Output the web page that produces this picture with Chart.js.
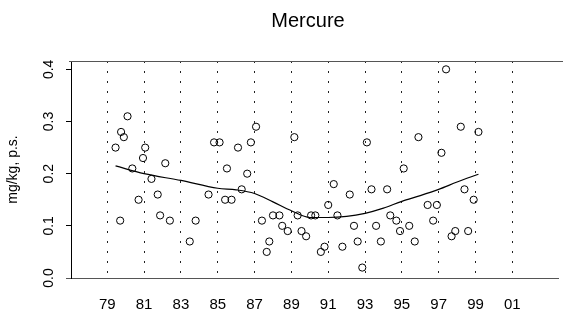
<!DOCTYPE html>
<html>
<head>
<meta charset="utf-8">
<script src="https://cdn.jsdelivr.net/npm/chart.js@4"></script>
<style>
    html, body { margin: 0; padding: 0; background: #fff; }
    #wrap { width: 563px; height: 320px; }
</style>
</head>
<body>
<div id="wrap"><canvas id="chart" width="563" height="320"></canvas></div>
<script>
// observations: year (decimal) and value
const obsYears = [
    79.45, 79.7, 79.75, 79.9, 80.1, 80.36, 80.7, 80.94, 81.06, 81.4,
    81.74, 81.87, 82.15, 82.4, 83.48, 83.8, 84.5, 84.8, 85.1, 85.4,
    85.5, 85.75, 86.1, 86.3, 86.6, 86.8, 87.08, 87.4, 87.66, 87.8,
    88.0, 88.35, 88.5, 88.8, 89.16, 89.34, 89.55, 89.8, 90.07, 90.3,
    90.6, 90.8, 91.0, 91.3, 91.5, 91.77, 92.17, 92.4, 92.6, 92.85,
    93.1, 93.35, 93.6, 93.86, 94.2, 94.37, 94.7, 94.9, 95.1, 95.4,
    95.7, 95.9, 96.4, 96.7, 96.9, 97.15, 97.4, 97.7, 97.9, 98.2,
    98.4, 98.6, 98.9, 99.16
];
const obsValues = [
    0.25, 0.11, 0.28, 0.27, 0.31, 0.21, 0.15, 0.23, 0.25, 0.19,
    0.16, 0.12, 0.22, 0.11, 0.07, 0.11, 0.16, 0.26, 0.26, 0.15,
    0.21, 0.15, 0.25, 0.17, 0.20, 0.26, 0.29, 0.11, 0.05, 0.07,
    0.12, 0.12, 0.10, 0.09, 0.27, 0.12, 0.09, 0.08, 0.12, 0.12,
    0.05, 0.06, 0.14, 0.18, 0.12, 0.06, 0.16, 0.10, 0.07, 0.02,
    0.26, 0.17, 0.10, 0.07, 0.17, 0.12, 0.11, 0.09, 0.21, 0.10,
    0.07, 0.27, 0.14, 0.11, 0.14, 0.24, 0.40, 0.08, 0.09, 0.29,
    0.17, 0.09, 0.15, 0.28
];

// smoothed trend
const trendYears = [79.45, 81, 83, 85, 86, 87, 88, 89, 90, 91, 92, 93, 94, 95, 96, 97, 98, 99.16];
const trendValues = [0.215, 0.200, 0.187, 0.172, 0.169, 0.162, 0.146, 0.129, 0.116, 0.116, 0.118, 0.124, 0.134, 0.147, 0.158, 0.170, 0.184, 0.199];

const xTickYears = [79, 81, 83, 85, 87, 89, 91, 93, 95, 97, 99, 101];
const yTickValues = [0.0, 0.1, 0.2, 0.3, 0.4];

const FONT = "'Liberation Sans', Arial, sans-serif";

const framePlugin = {
    id: "frame",
    afterDraw(chart) {
        const { ctx, chartArea } = chart;
        const yScale = chart.scales.y;
        ctx.save();
        // top border line
        ctx.strokeStyle = "#555";
        ctx.lineWidth = 1;
        ctx.beginPath();
        ctx.moveTo(chartArea.left - 2, chartArea.top + 0.5);
        ctx.lineTo(chart.width, chartArea.top + 0.5);
        ctx.stroke();
        // bottom line reaches under the first y tick
        ctx.beginPath();
        ctx.moveTo(chartArea.left - 5, chartArea.bottom + 0.5);
        ctx.lineTo(chartArea.left, chartArea.bottom + 0.5);
        ctx.stroke();
        // title
        ctx.fillStyle = "#000";
        ctx.font = "20px " + FONT;
        ctx.textAlign = "center";
        ctx.textBaseline = "middle";
        ctx.fillText("Mercure", 308, 21);
        // rotated y tick labels
        ctx.font = "14px " + FONT;
        yTickValues.forEach(v => {
            const py = yScale.getPixelForValue(v);
            ctx.save();
            ctx.translate(49, py);
            ctx.rotate(-Math.PI / 2);
            ctx.fillText(v.toFixed(1), 0, 0);
            ctx.restore();
        });
        ctx.restore();
    }
};

new Chart(document.getElementById("chart"), {
    type: "scatter",
    data: {
        datasets: [
            {
                label: "Mercure",
                data: obsYears.map((x, i) => ({ x, y: obsValues[i] })),
                pointStyle: "circle",
                pointRadius: 3.6,
                pointBorderWidth: 1,
                pointBorderColor: "#000",
                pointBackgroundColor: "rgba(0,0,0,0)",
                showLine: false
            },
            {
                label: "trend",
                data: trendYears.map((x, i) => ({ x, y: trendValues[i] })),
                showLine: true,
                borderColor: "#000",
                borderWidth: 1.2,
                pointRadius: 0,
                cubicInterpolationMode: "monotone",
                fill: false
            }
        ]
    },
    options: {
        responsive: false,
        animation: false,
        layout: { padding: { top: 61, right: 0, bottom: 0, left: 0 } },
        plugins: {
            legend: { display: false },
            tooltip: { enabled: false },
            title: { display: false }
        },
        scales: {
            x: {
                type: "linear",
                min: 77.03,
                max: 103.48,
                afterBuildTicks: scale => {
                    scale.ticks = xTickYears.map(v => ({ value: v }));
                },
                afterFit: scale => { scale.height = 42; },
                ticks: {
                    color: "#000",
                    font: { family: FONT, size: 15 },
                    padding: 18,
                    maxRotation: 0,
                    autoSkip: false,
                    callback: v => String(v % 100).padStart(2, "0")
                },
                grid: {
                    display: true,
                    drawOnChartArea: true,
                    drawTicks: false,
                    color: "#222",
                    lineWidth: 1
                },
                border: { display: true, color: "#555", width: 1, dash: [2, 8] }
            },
            y: {
                type: "linear",
                min: 0,
                max: 0.416,
                afterBuildTicks: scale => {
                    scale.ticks = yTickValues.map(v => ({ value: v }));
                },
                afterFit: scale => { scale.width = 71; },
                ticks: { display: false },
                grid: {
                    display: true,
                    drawOnChartArea: false,
                    drawTicks: true,
                    tickLength: 5,
                    color: "#000"
                },
                border: { display: true, color: "#000", width: 1 },
                title: {
                    display: true,
                    text: "mg/kg, p.s.",
                    color: "#000",
                    font: { family: FONT, size: 14 },
                    padding: { top: 5, bottom: 0 }
                }
            }
        }
    },
    plugins: [framePlugin]
});
</script>
</body>
</html>
